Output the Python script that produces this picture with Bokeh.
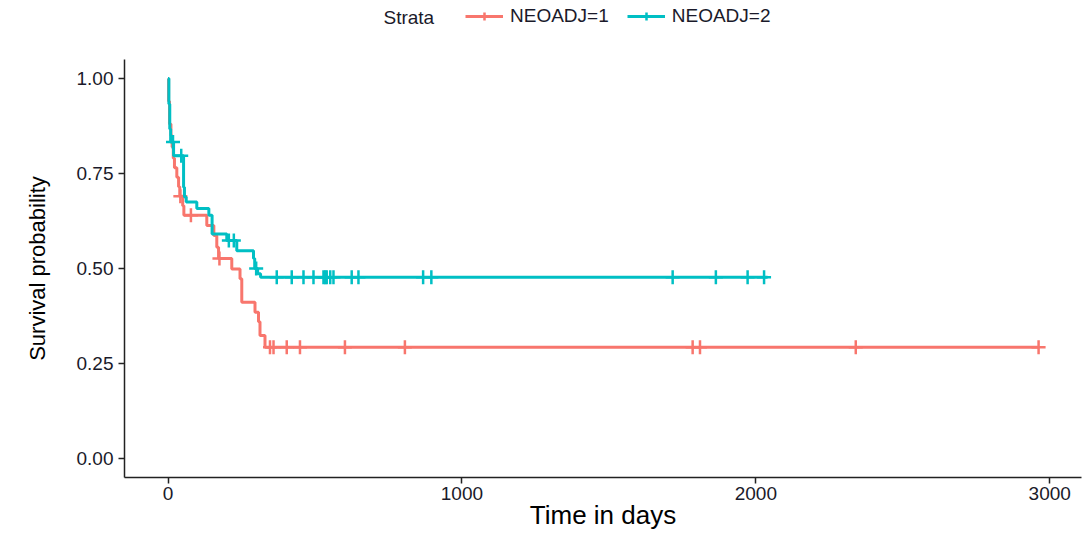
import numpy as np
from bokeh.plotting import figure
from bokeh.layouts import column
from bokeh.models import Range1d, FixedTicker, NumeralTickFormatter, Legend, LegendItem, Label
from bokeh.embed import file_html
from bokeh.resources import INLINE

# Kaplan-Meier steps
red_time = [0, 2, 5, 10, 14, 18, 22, 30, 36, 40, 50, 54, 132, 156, 166, 172, 217, 245, 251, 296, 308, 313, 330, 2962]
red_surv = [1.0, 0.94, 0.88, 0.85, 0.82, 0.79, 0.765, 0.74, 0.715, 0.69, 0.665, 0.64, 0.613, 0.587, 0.556, 0.526,
            0.499, 0.473, 0.411, 0.385, 0.36, 0.324, 0.293, 0.293]
red_cens = [42, 78, 175, 347, 359, 404, 449, 602, 806, 1785, 1810, 2340, 2962]

teal_time = [0, 3, 6, 9, 19, 53, 56, 62, 98, 139, 150, 200, 234, 291, 295, 305, 315, 2040]
teal_surv = [1.0, 0.933, 0.867, 0.833, 0.797, 0.714, 0.688, 0.675, 0.658, 0.64, 0.591, 0.574, 0.547, 0.526,
             0.5, 0.486, 0.477, 0.477]
teal_cens = [17, 45, 207, 224, 300, 370, 421, 461, 495, 529, 535, 540, 552, 563, 625, 648, 868, 896,
             1717, 1864, 1972, 2028]

legend_title = "Strata"
strata = ["NEOADJ=1", "NEOADJ=2"]
colors = ["#F8766D", "#00BFC4"]
x_ticks = [0, 1000, 2000, 3000]
y_ticks = [0, 0.25, 0.5, 0.75, 1.0]


def surv_at(times, surv, t):
    i = np.searchsorted(np.array(times), np.array(t), side="right") - 1
    return list(np.array(surv)[i])


FONT = "Liberation Sans"
TXT = "#1a1a2a"
LW = 3
CROSS = 14
FRAME_L, FRAME_R = 124, 1081

# ---- legend strip on top (frame aligned with main plot frame) ----
top = figure(width=1086, height=34, output_backend="svg", toolbar_location=None,
             x_range=Range1d(FRAME_L, FRAME_R), y_range=Range1d(0, 34),
             min_border_left=FRAME_L, min_border_right=1086 - FRAME_R, min_border_top=0, min_border_bottom=0)
top.axis.visible = False
top.grid.visible = False
top.outline_line_color = None
top.add_layout(Label(x=383, y=17, text=legend_title, text_baseline="middle", text_align="left",
                     text_font=FONT, text_font_size="19px", text_color=TXT))
leg_items = []
for col, name in zip(colors, strata):
    # legend-only renderers: a single point placed outside the visible strip
    l = top.line(x=[0, 1], y=[-100, -100], line_color=col, line_width=LW)
    s = top.scatter(x=[0], y=[-100], marker="cross", size=CROSS, line_color=col, line_width=2.5)
    leg_items.append(LegendItem(label=name, renderers=[l, s]))
legend = Legend(items=leg_items, orientation="horizontal", location=(460 - FRAME_L, 2))
legend.border_line_alpha = 0
legend.background_fill_alpha = 0
legend.padding = 5
legend.margin = 0
legend.label_text_font = FONT
legend.label_text_font_size = "19px"
legend.label_text_color = TXT
legend.glyph_width = 38
legend.label_standoff = 7
legend.spacing = 18
top.add_layout(legend, "center")

# ---- main plot ----
p = figure(width=1086, height=500, output_backend="svg", toolbar_location=None,
           x_range=Range1d(-148, 3108), y_range=Range1d(-0.05, 1.05),
           min_border_left=FRAME_L, min_border_right=1086 - FRAME_R, min_border_top=25, min_border_bottom=57)
p.outline_line_color = None
p.grid.visible = False

for times, surv, cens, col in [(red_time, red_surv, red_cens, colors[0]),
                               (teal_time, teal_surv, teal_cens, colors[1])]:
    p.step(times, surv, mode="after", line_color=col, line_width=LW)
    p.scatter(cens, surv_at(times, surv, cens), marker="cross", size=CROSS,
              line_color=col, line_width=2.5)

for ax in (p.xaxis[0], p.yaxis[0]):
    ax.axis_line_color = "#222222"
    ax.axis_line_width = 1.5
    ax.major_tick_line_color = "#222222"
    ax.major_tick_line_width = 1.5
    ax.major_tick_out = 6
    ax.major_tick_in = 0
    ax.minor_tick_line_color = None
    ax.major_label_text_font = FONT
    ax.major_label_text_font_size = "19px"
    ax.major_label_text_color = TXT
    ax.axis_label_text_font = FONT
    ax.axis_label_text_font_style = "normal"
    ax.axis_label_text_color = "black"

p.xaxis.ticker = FixedTicker(ticks=x_ticks)
p.yaxis.ticker = FixedTicker(ticks=y_ticks)
p.yaxis.formatter = NumeralTickFormatter(format="0.00")
p.xaxis.major_label_standoff = 3
p.xaxis.axis_label = "Time in days"
p.xaxis.axis_label_text_font_size = "26px"
p.xaxis.axis_label_standoff = -3
p.yaxis.axis_label = "Survival probability"
p.yaxis.axis_label_text_font_size = "22px"
p.yaxis.axis_label_standoff = 24

layout = column(top, p, spacing=0)
open("out.html", "w").write(file_html(layout, INLINE))
